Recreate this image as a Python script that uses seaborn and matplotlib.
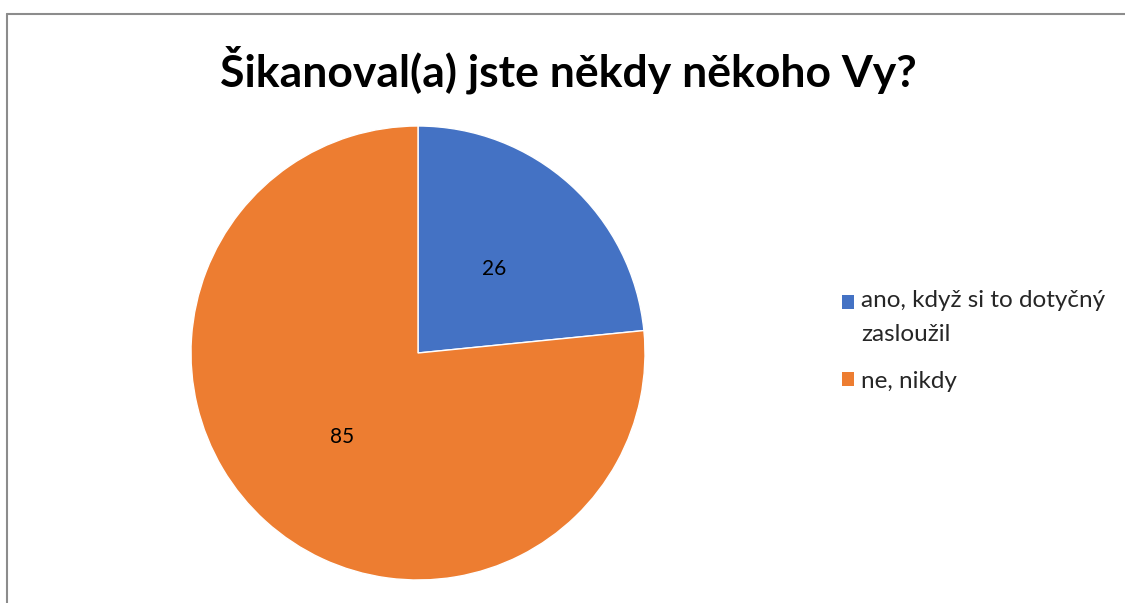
import matplotlib
matplotlib.use("Agg")
import matplotlib.pyplot as plt
import seaborn as sns
from matplotlib.patches import Patch
from matplotlib.lines import Line2D

labels = ["ano, když si to dotyčný\nzasloužil", "ne, nikdy"]
values = [26, 85]
colors = ["#4472C4", "#ED7D31"]
title = "Šikanoval(a) jste někdy někoho Vy?"

sns.set_theme(style="white")
plt.rcParams['font.family'] = ['Lato', 'DejaVu Sans']

fig = plt.figure(figsize=(11.25, 6.03), dpi=100)
W, H = 1125, 603

# chart border (clipped by the image edges on the right and bottom)
fig.add_artist(Line2D([7 / W, 7 / W], [0, 1 - 14 / H], color="#8c8c8c", lw=1.5))
fig.add_artist(Line2D([7 / W, 1], [1 - 14 / H, 1 - 14 / H], color="#8c8c8c", lw=1.5))

cx, cy, r = 418, 353, 227
ax = fig.add_axes([(cx - r) / W, (H - cy - r) / H, 2 * r / W, 2 * r / H])
wedges, texts, autotexts = ax.pie(
    values,
    colors=colors,
    startangle=90,
    counterclock=False,
    autopct=lambda p: f"{round(p * sum(values) / 100):d}",
    pctdistance=0.5,
    wedgeprops=dict(edgecolor="white", linewidth=1),
    textprops=dict(fontsize=15, color="black"),
)
ax.set_xlim(-1, 1)
ax.set_ylim(-1, 1)
ax.set_aspect("equal")

fig.text(568 / W, 1 - 70 / H, title, ha="center", va="center",
         fontsize=32, fontweight="bold", color="black")

handles = [Patch(facecolor=c, edgecolor="none") for c in colors]
leg = fig.legend(handles, labels, loc="upper left", bbox_to_anchor=(842 / W, 1 - 290 / H),
                 frameon=False, fontsize=17.5, handlelength=0.5, handleheight=0.5,
                 handletextpad=0.3, labelspacing=1.08, borderpad=0, borderaxespad=0)
for t in leg.get_texts():
    t.set_linespacing(1.75)
# align the square of the wrapped entry with its first line
p0 = leg.get_patches()[0]
p0.set_y(p0.get_y() + 11)

fig.savefig("out.png", dpi=100)
